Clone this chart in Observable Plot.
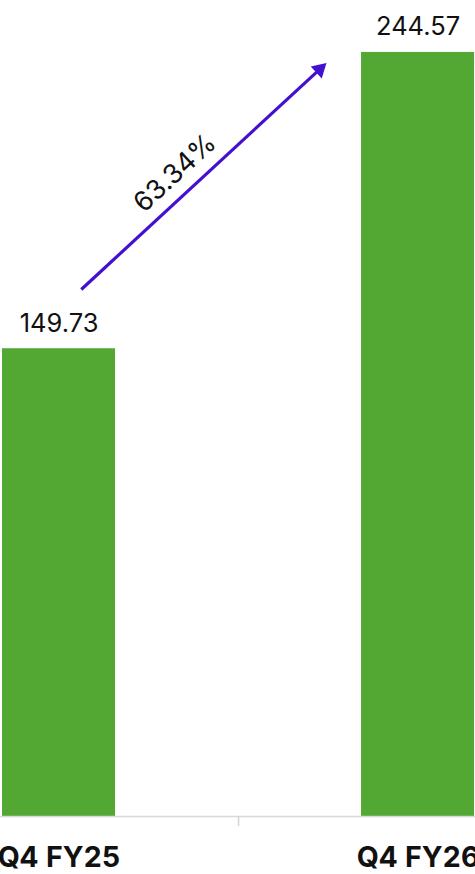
<!DOCTYPE html>
<html>
<head>
<meta charset="utf-8">
<script src="https://cdn.jsdelivr.net/npm/d3@7"></script>
<script src="https://cdn.jsdelivr.net/npm/@observablehq/plot@0.6"></script>
<style>
  html, body { margin: 0; padding: 0; background: #fff; }
  #chart svg { display: block; }
</style>
</head>
<body>
<div id="chart"></div>
<script>
// ---- data ----
const categories = ["Q4 FY25", "Q4 FY26"];
const values = [149.73, 244.57];
// growth arrow annotation, in data units (category index, value)
const arrowX = [0.062, 0.745];
const arrowY = [168.7, 241.2];

const W = 475, H = 874;
const green = "#52a832";
const purple = "#4410d0";
const font = "Inter, 'Noto Sans', sans-serif";

const data = categories.map((c, i) => ({cat: c, i, value: values[i]}));
const growth = values[1] / values[0] - 1;

const xDomain = [-0.163, 1.160];
const yDomain = [0, 261.2];
const marginBottom = 58;
const halfBar = 0.1574;

// standalone scales to compute arrow head geometry in pixels
const xs = Plot.scale({x: {domain: xDomain, range: [0, W]}});
const ys = Plot.scale({y: {domain: yDomain, range: [H - marginBottom, 0]}});
const p0 = [xs.apply(arrowX[0]), ys.apply(arrowY[0])];
const p1 = [xs.apply(arrowX[1]), ys.apply(arrowY[1])];
const ddx = p1[0] - p0[0], ddy = p1[1] - p0[1];
const len = Math.hypot(ddx, ddy);
const ux = ddx / len, uy = ddy / len;
const headR = 6;
const tipDist = 2 * Math.sqrt(Math.PI * headR * headR / (3 * Math.sqrt(3)));
const c = [p1[0] - ux * tipDist, p1[1] - uy * tipDist];
const headCenter = {x: xs.invert(c[0]), y: ys.invert(c[1])};
const rotHead = Math.atan2(ddx, -ddy) * 180 / Math.PI;
const lineAngle = Math.atan2(-ddy, ddx) * 180 / Math.PI;

// label position: along the line, offset perpendicular (up-left)
const t = 0.443, off = 22;
const lp = [p0[0] + ddx * t + uy * off, p0[1] + ddy * t - ux * off];
const labelPos = {x: xs.invert(lp[0]), y: ys.invert(lp[1])};

const plot = Plot.plot({
  width: W,
  height: H,
  marginLeft: 0,
  marginRight: 0,
  marginTop: 0,
  marginBottom,
  style: {fontFamily: font, background: "#fff", overflow: "visible"},
  x: {type: "linear", domain: xDomain, axis: null, label: null},
  y: {domain: yDomain, axis: null, label: null},
  marks: [
    Plot.rectY(data, {
      x1: d => d.i - halfBar,
      x2: d => d.i + halfBar,
      y1: 0,
      y2: "value",
      fill: green
    }),
    Plot.ruleY([0], {stroke: "#d9d9d9", strokeWidth: 1.5}),
    Plot.axisX({ticks: [0.5], tickSize: 10, tickFormat: () => "", stroke: "#d4d4d4", strokeWidth: 1.5, label: null}),
    Plot.axisX({
      ticks: [0, 1],
      tickSize: 0,
      tickPadding: 30,
      tickFormat: i => categories[i],
      fontSize: 28.5,
      fontWeight: "bold",
      fill: "#111",
      label: null
    }),
    Plot.text(data, {
      x: "i",
      y: "value",
      text: d => d.value.toFixed(2),
      dy: -17,
      lineAnchor: "bottom",
      fontSize: 25.5,
      fill: "#111"
    }),
    Plot.link([0], {
      x1: () => arrowX[0],
      y1: () => arrowY[0],
      x2: () => headCenter.x,
      y2: () => headCenter.y,
      stroke: purple,
      strokeWidth: 3.2
    }),
    Plot.dot([headCenter], {
      x: "x",
      y: "y",
      symbol: "triangle",
      r: headR,
      rotate: rotHead,
      fill: purple,
      stroke: "none"
    }),
    Plot.text([labelPos], {
      x: "x",
      y: "y",
      text: () => (growth * 100).toFixed(2) + "%",
      rotate: -lineAngle,
      fontSize: 27,
      fill: "#111",
      textAnchor: "middle",
      lineAnchor: "middle"
    })
  ]
});

document.getElementById("chart").appendChild(plot);
</script>
</body>
</html>
